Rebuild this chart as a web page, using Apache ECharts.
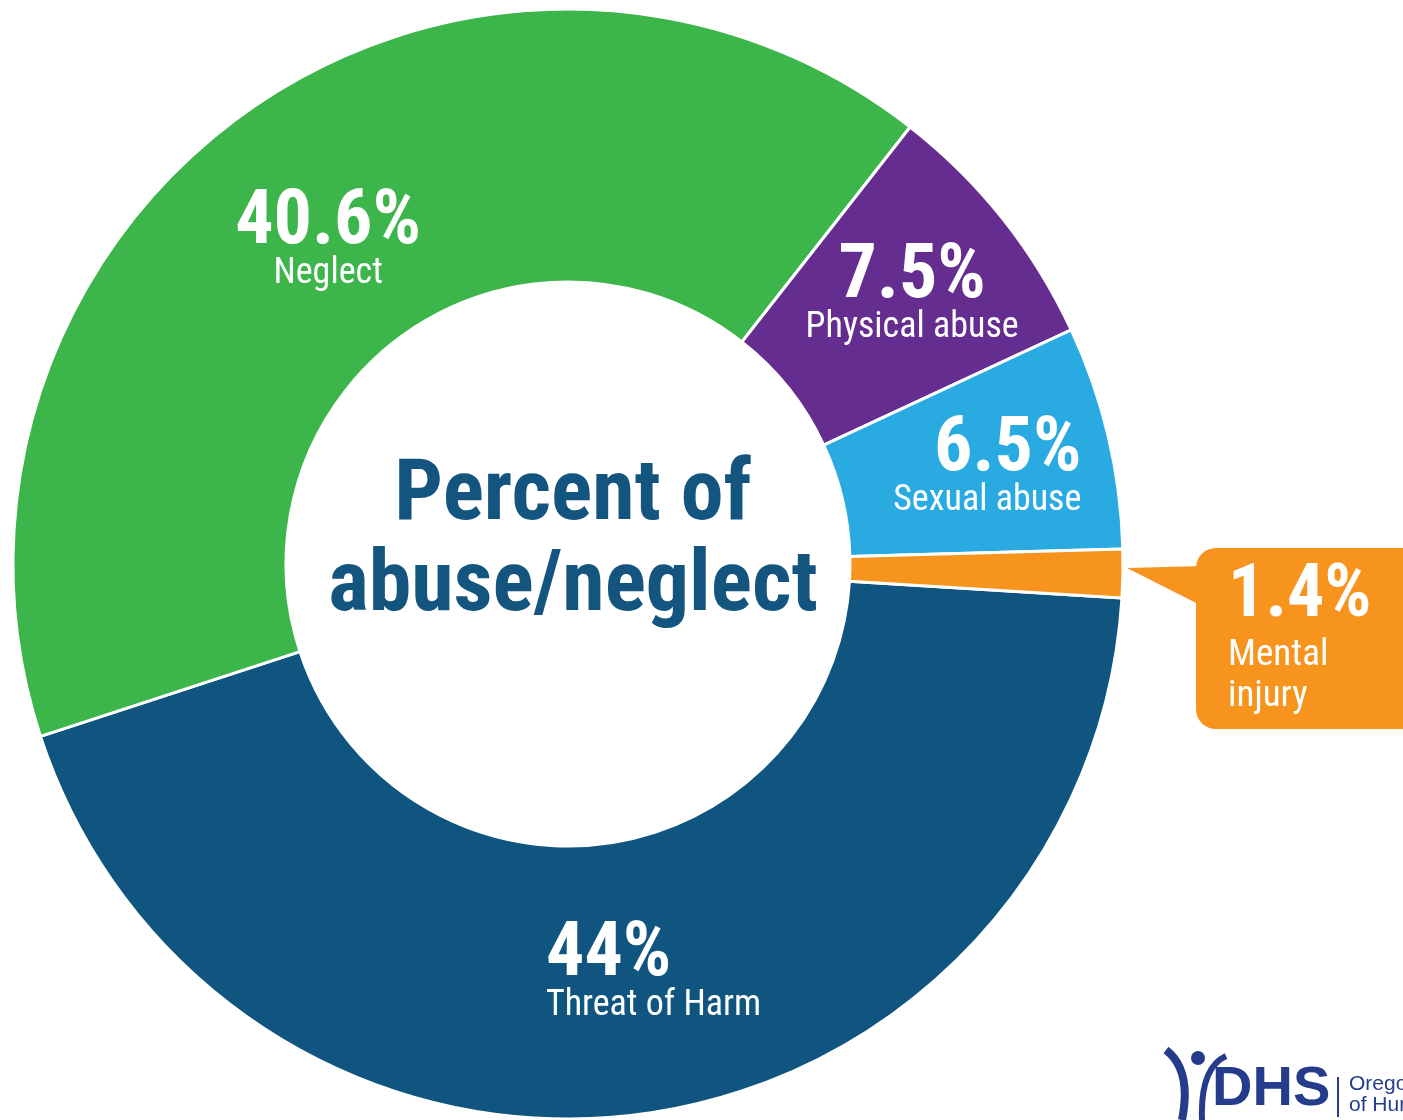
<!DOCTYPE html>
<html>
<head>
<meta charset="utf-8">
<script src="https://cdn.jsdelivr.net/npm/echarts@6/dist/echarts.min.js"></script>
<style>
  html, body { margin: 0; padding: 0; background: #ffffff; }
  #chart { width: 1403px; height: 1120px; }
</style>
</head>
<body>
<div id="chart"></div>
<script>
const categories = ['Threat of Harm', 'Neglect', 'Physical abuse', 'Sexual abuse', 'Mental injury'];
const values = [44, 40.6, 7.5, 6.5, 1.4];
const valueLabels = ['44%', '40.6%', '7.5%', '6.5%', '1.4%'];
const nameLabels = ['Threat of Harm', 'Neglect', 'Physical abuse', 'Sexual abuse', 'Mental\ninjury'];
const colors = ['#105580', '#3cb54a', '#662d91', '#29abe2', '#f7941e'];
const centerTitle = 'Percent of\nabuse/neglect';

const labelShift = [[32, -6], [2, 25], [14, -4], [9, 4]];
const labelAlign = ['left', 'center', 'center', 'right'];

const FONT = '"Roboto Condensed", "DejaVu Sans Condensed", sans-serif';

const chart = echarts.init(document.getElementById('chart'), null, { renderer: 'canvas' });

const data = categories.map((c, i) => {
  const item = { name: c, value: values[i], itemStyle: { color: colors[i] } };
  if (i < 4) {
    const al = labelAlign[i];
    item.label = {
      position: 'inside',
      formatter: '{p|' + valueLabels[i] + '}\n{n|' + nameLabels[i] + '}',
      rich: {
        p: { fontFamily: FONT, fontSize: 76, fontWeight: 'bold', color: '#fff', lineHeight: 60, align: al },
        n: { fontFamily: FONT, fontSize: 36, color: '#fff', lineHeight: 40, align: al }
      }
    };
  } else {
    item.label = {
      position: 'outside',
      formatter: '{p|' + valueLabels[i] + '}\n{n|Mental}\n{n|injury}',
      backgroundColor: colors[i],
      borderRadius: 20,
      padding: [11, 10, 12, 32],
      width: 260,
      align: 'left',
      rich: {
        p: { fontFamily: FONT, fontSize: 74, fontWeight: 'bold', color: '#fff', lineHeight: 76, align: 'left' },
        n: { fontFamily: FONT, fontSize: 37, color: '#fff', lineHeight: 41, align: 'left' }
      }
    };
    item.labelLine = { show: false };
  }
  return item;
});

chart.setOption({
  animation: false,
  backgroundColor: '#ffffff',
  series: [{
    type: 'pie',
    center: [568, 564],
    radius: [282, 555],
    startAngle: 356.5,
    clockwise: true,
    avoidLabelOverlap: false,
    silent: true,
    itemStyle: { borderColor: '#ffffff', borderWidth: 3 },
    label: { show: true },
    labelLine: { show: false },
    labelLayout: function (params) {
      const i = params.dataIndex;
      if (i === 4) return { x: 1196, y: 548, align: 'left', verticalAlign: 'top' };
      return { dx: labelShift[i][0], dy: labelShift[i][1] };
    },
    data: data
  }],
  graphic: [
    {
      type: 'text', x: 573, y: 543,
      style: {
        text: centerTitle, fontFamily: FONT, fontSize: 86, fontWeight: 'bold',
        fill: '#13557f', lineHeight: 91, align: 'center', verticalAlign: 'middle'
      }
    },
    {
      type: 'polygon',
      shape: { points: [[1127, 568], [1202, 566], [1202, 606]] },
      style: { fill: '#f7941e' }
    },
    { type: 'circle', shape: { cx: 1198, cy: 1058, r: 7 }, style: { fill: '#253b8c' } },
    {
      type: 'bezierCurve',
      shape: { x1: 1166, y1: 1050, cpx1: 1192, cpy1: 1070, x2: 1182, y2: 1120 },
      style: { stroke: '#253b8c', lineWidth: 8, fill: null }
    },
    {
      type: 'bezierCurve',
      shape: { x1: 1226, y1: 1056, cpx1: 1200, cpy1: 1068, x2: 1202, y2: 1120 },
      style: { stroke: '#253b8c', lineWidth: 6, fill: null }
    },
    {
      type: 'text', x: 1212, y: 1118,
      style: {
        text: 'DHS', fontFamily: '"Liberation Sans", Arial, sans-serif', fontSize: 56,
        fontWeight: 'bold', fill: '#253b8c', align: 'left', verticalAlign: 'bottom'
      }
    },
    { type: 'rect', shape: { x: 1337, y: 1077, width: 2, height: 40 }, style: { fill: '#253b8c' } },
    {
      type: 'text', x: 1349, y: 1074,
      style: {
        text: 'Oregon Department\nof Human Services', fontFamily: '"Liberation Sans", Arial, sans-serif',
        fontSize: 21, lineHeight: 21, fill: '#253b8c', align: 'left', verticalAlign: 'top'
      }
    }
  ]
});
</script>
</body>
</html>
